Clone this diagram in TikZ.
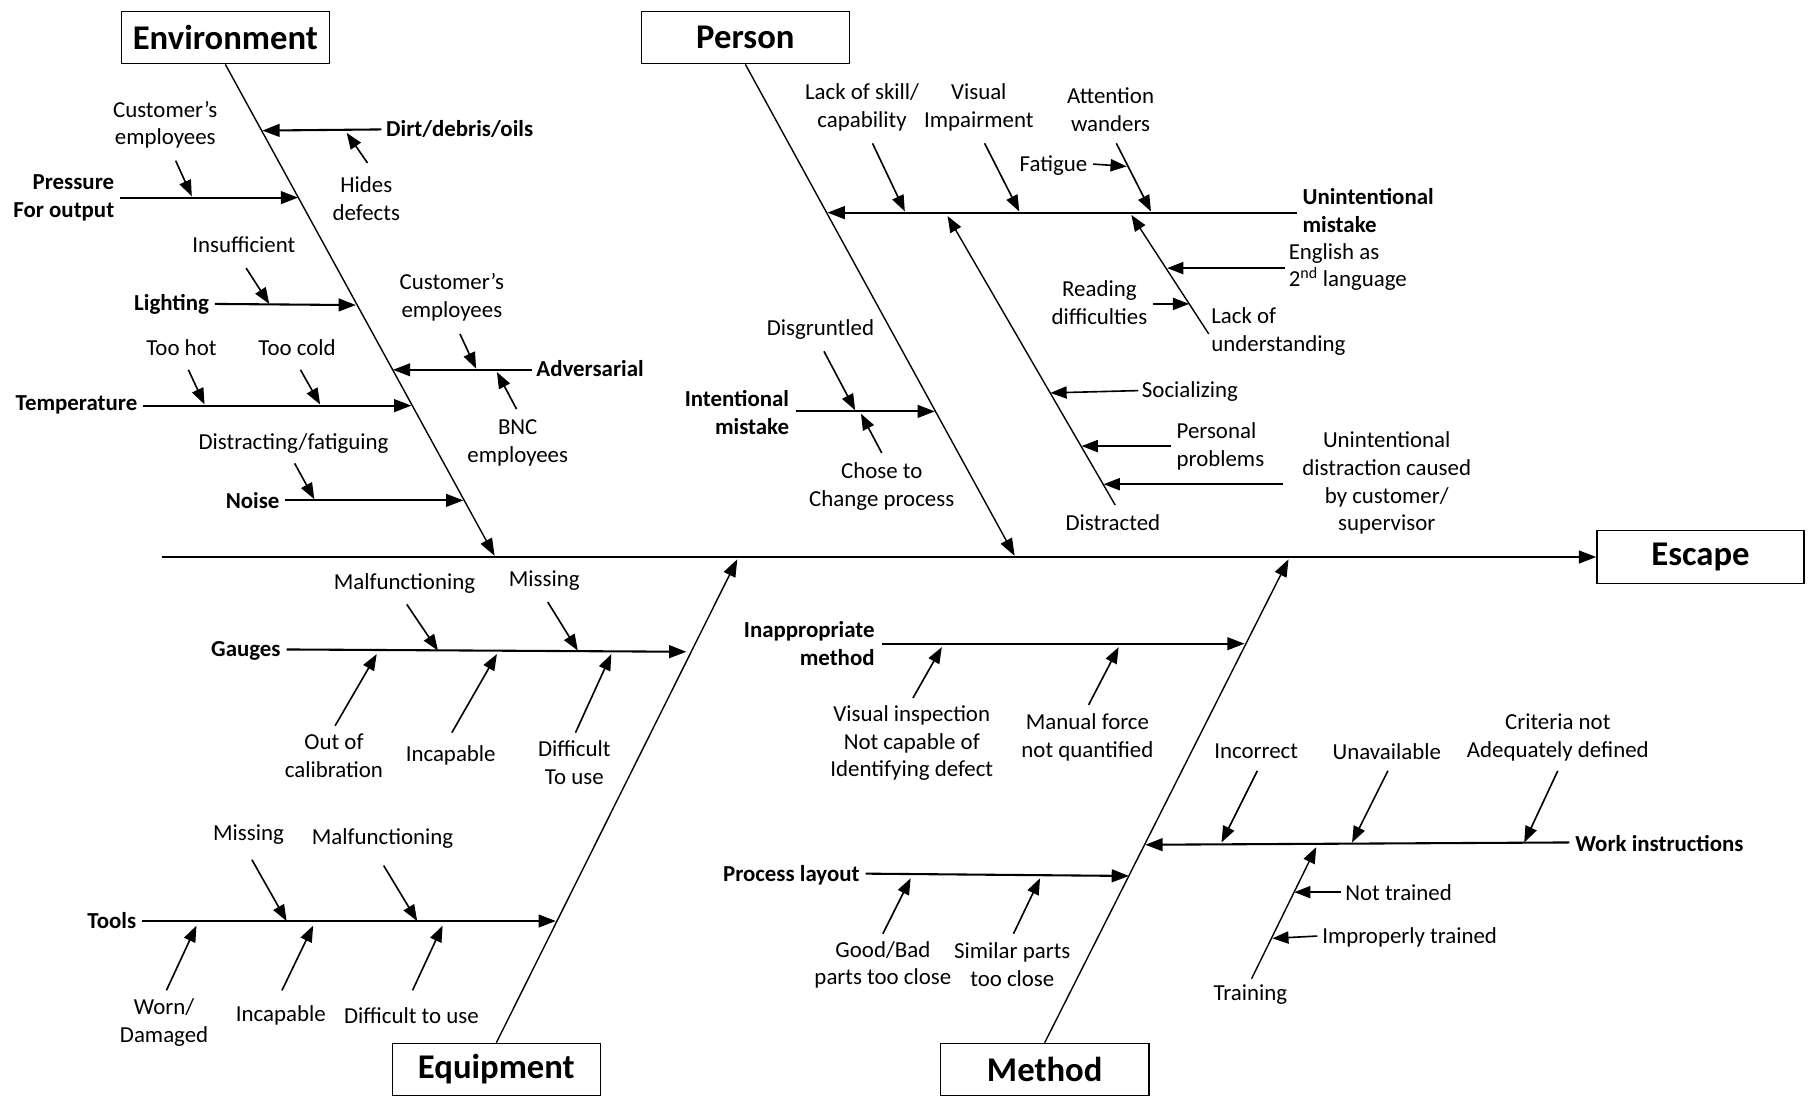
\documentclass[tikz,border=0pt]{standalone}
\usepackage{fontspec}
\setmainfont{Carlito}
\usetikzlibrary{arrows.meta}
\begin{document}
\begin{tikzpicture}[x=1pt,y=-1pt,
  lbl/.style={inner sep=0pt, align=center, font=\fontsize{19.8}{24}\selectfont},
  blbl/.style={inner sep=0pt, align=center, font=\fontsize{19.8}{24}\selectfont\bfseries},
  titlebox/.style={draw, line width=1.4pt, minimum width=180pt, minimum height=45pt, inner sep=0pt, font=\fontsize{30}{35}\selectfont\bfseries},
  spine/.style={line width=1.8pt, -{Triangle[length=15pt,width=11pt]}},
  bone/.style={line width=1.2pt, -{Triangle[length=15pt,width=11pt]}},
  cause/.style={line width=1.8pt, -{Triangle[length=15pt,width=11pt]}},
  sub/.style={line width=1.4pt, -{Triangle[length=14pt,width=10.5pt]}}
]
\useasboundingbox (0,0) rectangle (1568,950);

% ---------- boxes ----------
\node[titlebox] (envbox) at (195,32.5) {Environment};
\node[titlebox] (personbox) at (645,32.5) {Person};
\node[titlebox] (equipbox) at (429.5,925.5) {Equipment};
\node[titlebox] (methodbox) at (904,925.5) {Method};
\node[titlebox, minimum width=179pt, minimum height=46pt] (escbox) at (1471.5,482) {Escape};

% ---------- spine ----------
\coordinate (spst) at (140,482);
\draw[spine] (spst) -- (escbox.west);

% ---------- bones ----------
\coordinate (envtip) at (428,481);
\coordinate (pertip) at (878,481);
\coordinate (eqtip) at (638,484);
\coordinate (metip) at (1115,484);
\draw[bone] (envbox.south) -- (envtip);
\draw[bone] (personbox.south) -- (pertip);
\draw[bone] (equipbox.north) -- (eqtip);
\draw[bone] (methodbox.north) -- (metip);

% ================= ENVIRONMENT =================
\node[lbl] (cust1) at (143,108) {Customer’s\\employees};
\node[blbl, anchor=east, align=right] (press) at (99,171) {Pressure\\For output};
\node[blbl, anchor=west] (dirt) at (334,112) {Dirt/debris/oils};
\node[lbl] (hides) at (317,172) {Hides\\defects};
\node[lbl] (insuf) at (211,212) {Insufficient};
\node[blbl, anchor=east] (light) at (181,263) {Lighting};
\node[lbl] (cust2) at (391,257) {Customer’s\\employees};
\node[blbl, anchor=west] (adv) at (464,319) {Adversarial};
\node[lbl] (bnc) at (448,383) {BNC\\employees};
\node[lbl] (hot) at (157,301) {Too hot};
\node[lbl] (cold) at (257,301) {Too cold};
\node[blbl, anchor=east] (temp) at (119,350) {Temperature};
\node[lbl] (distr) at (254,384) {Distracting/fatiguing};
\node[blbl, anchor=east] (noise) at (242,433) {Noise};

\coordinate (dirtE) at (227,113);
\coordinate (dirtM) at (300,115);
\coordinate (hidesS) at (318,141);
\coordinate (pressE) at (258,171);
\coordinate (pressM) at (166,170);
\coordinate (cust1S) at (152,139);
\coordinate (lightE) at (308,264);
\coordinate (lightM) at (233,263);
\coordinate (insufS) at (213,232);
\coordinate (advE) at (340,320);
\coordinate (advM1) at (412,319);
\coordinate (advM2) at (430,322);
\coordinate (cust2S) at (398,289);
\coordinate (bncS) at (447,354);
\coordinate (tempE) at (356,351);
\coordinate (tempM1) at (177,350);
\coordinate (tempM2) at (277,350);
\coordinate (hotS) at (163,320);
\coordinate (coldS) at (260,320);
\coordinate (noiseE) at (401,433);
\coordinate (noiseM) at (272,432);
\coordinate (distrS) at (255,401);

\draw[cause] ([xshift=-4pt]dirt.west) -- (dirtE);
\draw[sub] (hidesS) -- (dirtM);
\draw[cause] ([xshift=5pt]press.east) -- (pressE);
\draw[sub] (cust1S) -- (pressM);
\draw[cause] ([xshift=5pt]light.east) -- (lightE);
\draw[sub] (insufS) -- (lightM);
\draw[cause] ([xshift=-4pt,yshift=-1pt]adv.west) -- (advE);
\draw[sub] (cust2S) -- (advM1);
\draw[sub] (bncS) -- (advM2);
\draw[cause] ([xshift=5pt,yshift=-1pt]temp.east) -- (tempE);
\draw[sub] (hotS) -- (tempM1);
\draw[sub] (coldS) -- (tempM2);
\draw[cause] ([xshift=5pt]noise.east) -- (noiseE);
\draw[sub] (distrS) -- (noiseM);

% ================= PERSON =================
\node[lbl] (lackskill) at (746,93) {Lack of skill/\\capability};
\node[lbl] (visimp) at (847,93) {Visual\\Impairment};
\node[lbl] (attn) at (961,95) {Attention\\wanders};
\node[lbl, anchor=east] (fatigue) at (941,143) {Fatigue};
\node[blbl, anchor=west, align=left] (unint) at (1127,182) {Unintentional\\mistake};
\node[lbl, anchor=west, align=left] (english) at (1115,231) {English as\\2\textsuperscript{nd} language};
\node[lbl, anchor=east] (reading) at (993,262) {Reading\\difficulties};
\node[lbl, anchor=west, align=left] (lackund) at (1048,287) {Lack of\\understanding};
\node[lbl] (disg) at (710,285) {Disgruntled};
\node[blbl, anchor=east, align=right] (intent) at (683,357) {Intentional\\mistake};
\node[lbl] (chose) at (763,421) {Chose to\\Change process};
\node[lbl, anchor=west] (social) at (988,339) {Socializing};
\node[lbl, anchor=west, align=left] (personal) at (1018,386) {Personal\\problems};
\node[lbl] (uidist) at (1200,418) {Unintentional\\distraction caused\\by customer/\\supervisor};
\node[lbl] (distd) at (963,452) {Distracted};

\coordinate (unintS) at (1122,184);
\coordinate (unintE) at (716,184);
\coordinate (unintM1) at (783,183);
\coordinate (unintM2) at (882,183);
\coordinate (unintM3) at (996,183);
\coordinate (unintM4) at (979,186);
\coordinate (unintM5) at (820,187);
\coordinate (lackskillS) at (755,124);
\coordinate (visimpS) at (852,124);
\coordinate (attnS) at (966,124);
\coordinate (attnM) at (975,144);
\coordinate (lackundS) at (1046,289);
\coordinate (lackundM1) at (1010,232);
\coordinate (lackundM2) at (1029,263);
\coordinate (distdS) at (965,437);
\coordinate (distdM1) at (909,340);
\coordinate (distdM2) at (936,386);
\coordinate (distdM3) at (955,419);
\coordinate (uidistS) at (1110,419);
\coordinate (intentE) at (809,356);
\coordinate (intentM1) at (740,355);
\coordinate (intentM2) at (745,358);
\coordinate (disgS) at (713,304);
\coordinate (choseS) at (763,392);

\draw[cause] (unintS) -- (unintE);
\draw[sub] (lackskillS) -- (unintM1);
\draw[sub] (visimpS) -- (unintM2);
\draw[sub] (attnS) -- (unintM3);
\draw[sub] ([xshift=5pt,yshift=1pt]fatigue.east) -- (attnM);
\draw[sub, line width=1.2pt] (lackundS) -- (unintM4);
\draw[sub] ([xshift=-3pt]english.west |- lackundM1) -- (lackundM1);
\draw[sub] ([xshift=5pt]reading.east |- lackundM2) -- (lackundM2);
\draw[sub, line width=1.2pt] (distdS) -- (unintM5);
\draw[sub] ([xshift=-3pt,yshift=1pt]social.west) -- (distdM1);
\draw[sub] ([xshift=-5pt]personal.west |- distdM2) -- (distdM2);
\draw[sub] (uidistS) -- (distdM3);
\draw[cause] ([xshift=6pt]intent.east |- intentE) -- (intentE);
\draw[sub] (disgS) -- (intentM1);
\draw[sub] (choseS) -- (intentM2);

% ================= EQUIPMENT =================
\node[lbl] (malf1) at (350,505) {Malfunctioning};
\node[lbl] (miss1) at (471,502) {Missing};
\node[blbl, anchor=east] (gauges) at (243,563) {Gauges};
\node[lbl] (outcal) at (289,654) {Out of\\calibration};
\node[lbl] (incap1) at (390,654) {Incapable};
\node[lbl] (diff1) at (497,660) {Difficult\\To use};
\node[lbl] (miss2) at (215,722) {Missing};
\node[lbl] (malf2) at (331,726) {Malfunctioning};
\node[blbl, anchor=east] (tools) at (118,797) {Tools};
\node[lbl] (worn) at (142,885) {Worn/\\Damaged};
\node[lbl] (incap2) at (243,879) {Incapable};
\node[lbl] (diff2) at (356,879) {Difficult to use};

\coordinate (gaugesE) at (594,564);
\coordinate (gM1) at (379,563);
\coordinate (gM2) at (500,563);
\coordinate (gM3) at (326,566);
\coordinate (gM4) at (430,566);
\coordinate (gM5) at (529,566);
\coordinate (malf1S) at (352,523);
\coordinate (miss1S) at (474,521);
\coordinate (outcalS) at (290,628);
\coordinate (incap1S) at (391,634);
\coordinate (diff1S) at (498,634);
\coordinate (toolsE) at (481,797);
\coordinate (tM1) at (248,797);
\coordinate (tM2) at (361,797);
\coordinate (tM3) at (170,801);
\coordinate (tM4) at (271,801);
\coordinate (tM5) at (383,801);
\coordinate (miss2S) at (218,744);
\coordinate (malf2S) at (332,749);
\coordinate (wornS) at (144,857);
\coordinate (incap2S) at (244,857);
\coordinate (diff2S) at (357,857);

\draw[cause] ([xshift=5pt,yshift=1pt]gauges.east) -- (gaugesE);
\draw[sub] (malf1S) -- (gM1);
\draw[sub] (miss1S) -- (gM2);
\draw[sub] (outcalS) -- (gM3);
\draw[sub] (incap1S) -- (gM4);
\draw[sub] (diff1S) -- (gM5);
\draw[cause] ([xshift=5pt]tools.east) -- (toolsE);
\draw[sub] (miss2S) -- (tM1);
\draw[sub] (malf2S) -- (tM2);
\draw[sub] (wornS) -- (tM3);
\draw[sub] (incap2S) -- (tM4);
\draw[sub] (diff2S) -- (tM5);

% ================= METHOD =================
\node[blbl, anchor=east, align=right] (inapp) at (757,557) {Inappropriate\\method};
\node[lbl] (visinsp) at (789,643) {Visual inspection\\Not capable of\\Identifying defect};
\node[lbl] (manual) at (941,638) {Manual force\\not quantified};
\node[lbl] (incorrect) at (1087,650) {Incorrect};
\node[lbl] (unavail) at (1200,650) {Unavailable};
\node[lbl] (criteria) at (1348,638) {Criteria not\\Adequately defined};
\node[blbl, anchor=west] (work) at (1363,730) {Work instructions};
\node[lbl, anchor=west] (nottr) at (1164,772) {Not trained};
\node[lbl, anchor=west] (improp) at (1144,811) {Improperly trained};
\node[lbl] (training) at (1082,861) {Training};
\node[blbl, anchor=east] (proc) at (744,757) {Process layout};
\node[lbl] (goodbad) at (764,835) {Good/Bad\\parts too close};
\node[lbl] (similar) at (876,835) {Similar parts\\too close};

\coordinate (inappE) at (1077,557);
\coordinate (iM1) at (815,560);
\coordinate (iM2) at (968,560);
\coordinate (visinspS) at (790,604);
\coordinate (manualS) at (942,610);
\coordinate (workE) at (991,731);
\coordinate (wM1) at (1057,729);
\coordinate (wM2) at (1170,729);
\coordinate (wM3) at (1319,729);
\coordinate (wM4) at (1139,733);
\coordinate (incorrectS) at (1088,667);
\coordinate (unavailS) at (1201,667);
\coordinate (criteriaS) at (1348,667);
\coordinate (trainingS) at (1083,847);
\coordinate (trM1) at (1120,772);
\coordinate (trM2) at (1101,812);
\coordinate (procE) at (977,758);
\coordinate (pM1) at (788,760);
\coordinate (pM2) at (900,760);
\coordinate (goodbadS) at (764,808);
\coordinate (similarS) at (877,808);

\draw[cause] ([xshift=6pt]inapp.east) -- (inappE);
\draw[sub] (visinspS) -- (iM1);
\draw[sub] (manualS) -- (iM2);
\draw[cause] ([xshift=-5pt,yshift=1pt]work.west) -- (workE);
\draw[sub] (incorrectS) -- (wM1);
\draw[sub] (unavailS) -- (wM2);
\draw[sub] (criteriaS) -- (wM3);
\draw[sub, line width=1.2pt] (trainingS) -- (wM4);
\draw[sub] ([xshift=-4pt]nottr.west) -- (trM1);
\draw[sub] ([xshift=-4pt,yshift=1pt]improp.west) -- (trM2);
\draw[cause] ([xshift=5pt,yshift=1pt]proc.east) -- (procE);
\draw[sub] (goodbadS) -- (pM1);
\draw[sub] (similarS) -- (pM2);
\end{tikzpicture}
\end{document}
